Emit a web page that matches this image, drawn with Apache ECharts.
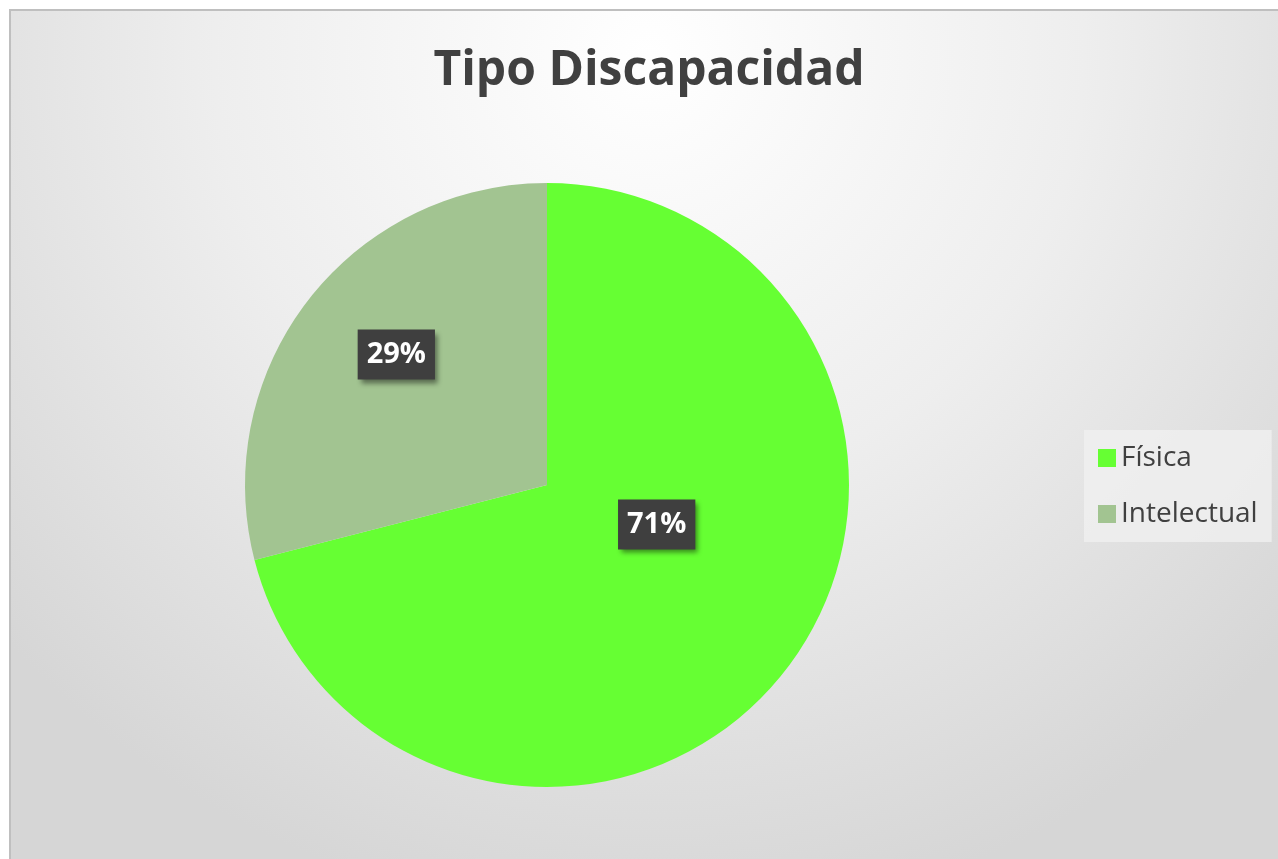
<!DOCTYPE html>
<html>
<head>
<meta charset="utf-8">
<script src="https://cdn.jsdelivr.net/npm/echarts@6/dist/echarts.min.js"></script>
<style>
    html, body { margin: 0; padding: 0; background: #ffffff; overflow: hidden; }
    #frame {
        position: absolute; left: 9px; top: 9px;
        width: 1276px; height: 870px;
        border: 2px solid #bfbfbf;
    }
    #chart_main { width: 1276px; height: 870px; }
</style>
</head>
<body>
<div id="frame"><div id="chart_main"></div></div>
<script>
var chartTitle = 'Tipo Discapacidad';
var categories = ['Física', 'Intelectual'];
var values = [71, 29];
var colors = ['#66ff33', '#a2c491'];

(function () {
    var myChart = echarts.init(document.getElementById('chart_main'));
    var labelOffsets = [[-12, -55], [-29, -36]];
    var data = [];
    for (var i = 0; i < categories.length; i++) {
        data.push({
            name: categories[i],
            value: values[i],
            itemStyle: { color: colors[i] },
            label: { offset: labelOffsets[i] }
        });
    }
    var option = {
        backgroundColor: {
            type: 'radial', x: 0.5, y: 0.05, r: 1.0,
            colorStops: [
                { offset: 0, color: '#ffffff' },
                { offset: 0.5, color: '#eeeeee' },
                { offset: 1, color: '#d6d6d6' }
            ]
        },
        title: {
            text: chartTitle,
            left: 'center',
            top: 31,
            textStyle: {
                fontFamily: 'Open Sans',
                fontWeight: 'bold',
                fontSize: 48,
                color: '#404040'
            }
        },
        legend: {
            orient: 'vertical',
            left: 1073,
            top: 419,
            padding: [14, 14, 14, 14],
            backgroundColor: 'rgba(240,240,240,0.8)',
            itemWidth: 18,
            itemHeight: 18,
            itemGap: 28,
            icon: 'rect',
            textStyle: {
                fontFamily: 'Open Sans',
                fontSize: 28,
                color: '#404040'
            },
            data: categories
        },
        series: [{
            type: 'pie',
            center: [536, 474],
            radius: [0, 302],
            startAngle: 90,
            clockwise: true,
            avoidLabelOverlap: false,
            silent: true,
            label: {
                show: true,
                position: 'inside',
                formatter: '{d}%',
                fontFamily: 'Open Sans',
                fontWeight: 'bold',
                fontSize: 29,
                color: '#ffffff',
                backgroundColor: '#3f3f3f',
                padding: [12, 9, 9, 9],
                shadowColor: 'rgba(0,0,0,0.45)',
                shadowBlur: 5,
                shadowOffsetX: 3,
                shadowOffsetY: 4
            },
            labelLine: { show: false },
            data: data
        }]
    };
    myChart.setOption(option);
})();
</script>
</body>
</html>
